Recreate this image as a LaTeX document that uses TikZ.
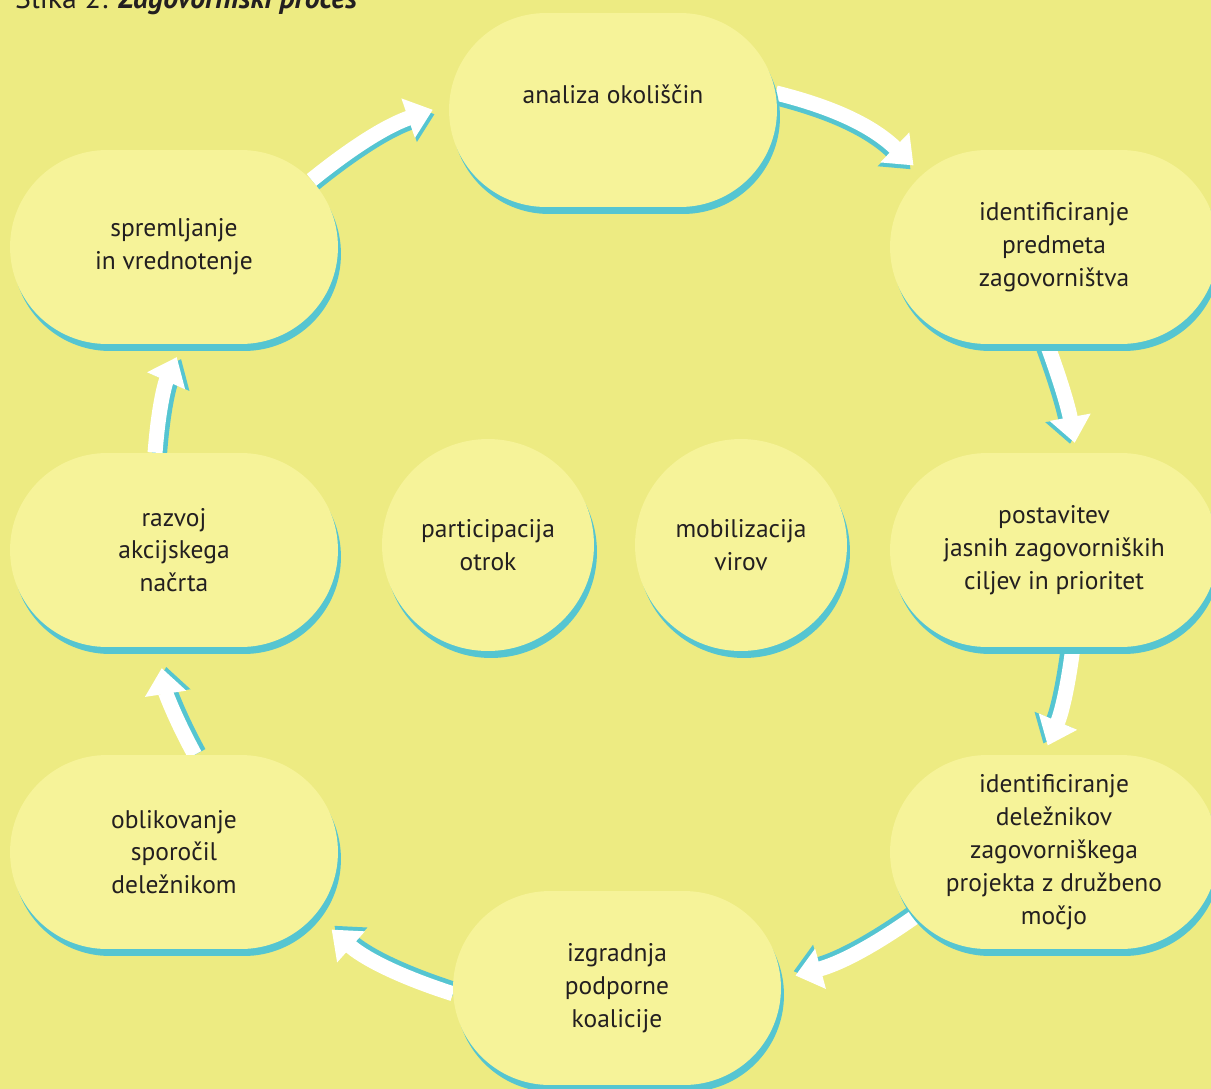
\documentclass[tikz,border=0pt]{standalone}
\usepackage{fontspec}
\setmainfont{PT Sans}
\usetikzlibrary{arrows.meta,shapes.misc,shadows,backgrounds}
\definecolor{paper}{HTML}{EDEB82}
\definecolor{leaf}{HTML}{F6F399}
\definecolor{rim}{HTML}{55C5D1}
\definecolor{ink}{HTML}{231F20}
\newcommand{\stagefont}{\fontsize{14.5pt}{18.7pt}\selectfont}
\newcommand{\titlefont}{\fontsize{17pt}{20pt}\selectfont}

\begin{document}
\begin{tikzpicture}[x=0.02cm,y=-0.02cm,
      stage/.style={rounded rectangle,fill=leaf,minimum width=6.56cm,minimum height=3.88cm,
        inner sep=0pt,align=center,text=ink,font=\stagefont,
        drop shadow={shadow xshift=0.06cm,shadow yshift=-0.14cm,fill=rim,opacity=1}},
      hub/.style={stage,circle,minimum size=4.24cm},
      flowbody/.style={every edge/.style={draw=white,line width=0.3cm,
        -{Triangle[width=0.8cm,length=0.52cm]}}},
      flowshadow/.style={every edge/.style={draw=rim,line width=0.3cm,
        -{Triangle[width=0.8cm,length=0.52cm]},
        transform canvas={scale around={0.99:(ring)}}}}]
    \useasboundingbox (0,0) rectangle (1211,1089);
    \coordinate (ring) at (614,548);
    \node[anchor=base west,font=\titlefont,text=ink] (T) at (9,8)
      {Slika 2: \textbf{\textit{Zagovorniški proces}}};
    % the eight steps, clockwise from the top
    \node[stage] (AN) at (613,110) {\raisebox{0.13cm}[0pt][0pt]{analiza okoliščin}};
    \node[stage] (ID) at (1054,247) {identificiranje\\predmeta\\zagovorništva};
    \node[stage] (CI) at (1054,550) {postavitev\\jasnih zagovorniških\\ciljev in prioritet};
    \node[stage] (DE) at (1054,852) {identificiranje\\deležnikov\\zagovorniškega\\projekta z družbeno\\močjo};
    \node[stage] (KO) at (617,988) {izgradnja\\podporne\\koalicije};
    \node[stage] (SP) at (174,852) {oblikovanje\\sporočil\\deležnikom};
    \node[stage] (NA) at (174,550) {razvoj\\akcijskega\\načrta};
    \node[stage] (SV) at (174,247) {spremljanje\\in vrednotenje};
    \node[hub] (PO) at (488,545) {participacija\\otrok};
    \node[hub] (MV) at (741,545) {mobilizacija\\virov};
    \begin{scope}[on background layer]
      \fill[paper] (0,0) rectangle (1211,1089);
      \foreach \lay in {flowshadow,flowbody}
        \path[\lay]
          (AN.6)   edge[bend left=15,shorten >=0.25cm] (ID.151)
          (ID.266) edge[bend left=5,shorten >=0.2cm]   (CI.77)
          (CI.281) edge[bend left=8,shorten >=0.2cm]   (DE.96)
          (DE.205) edge[bend left=10,shorten >=0.3cm]  (KO.3)
          (KO.182) edge[bend left=12,shorten >=0.44cm] (SP.-24)
          (SP.78)  edge[bend left=10,shorten >=0.42cm] (NA.261)
          (NA.101) edge[bend left=10,shorten >=0.28cm] (SV.275)
          (SV.26)  edge[bend left=10,shorten >=0.34cm] (AN.178);
    \end{scope}
\end{tikzpicture}
\end{document}
